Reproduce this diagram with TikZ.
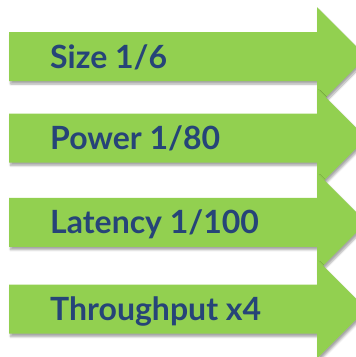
\documentclass[tikz,border=0pt]{standalone}
\usepackage{fontspec}
\setmainfont{Lato}
\usetikzlibrary{shadows.blur}
\definecolor{arrowgreen}{HTML}{92D050}
\definecolor{textblue}{HTML}{264478}
\begin{document}
\begin{tikzpicture}[x=1pt,y=-1pt,
  bigarrow/.style={fill=arrowgreen, draw=none,
    blur shadow={shadow xshift=1.5pt, shadow yshift=-3pt, shadow opacity=35, shadow blur steps=6, shadow blur radius=2pt}},
  label/.style={anchor=base west, inner sep=0pt, text=textblue, font=\fontsize{32}{36}\selectfont\bfseries}]
\useasboundingbox (0,0) rectangle (356,357);
\foreach \cy/\txt/\nm in {56.5/Size 1\slash 6/a, 138/Power 1\slash 80/b, 222.3/Latency 1\slash 100/c, 309.2/Throughput x4/d}{
  \path[bigarrow] (9,\cy-24.5) -- (317,\cy-24.5) -- (317,\cy-49.5) -- (366.5,\cy) -- (317,\cy+49.5) -- (317,\cy+24.5) -- (9,\cy+24.5) -- cycle;
  \node[label] (\nm) at (50,\cy+11.5) {\txt};
}
\end{tikzpicture}
\end{document}
